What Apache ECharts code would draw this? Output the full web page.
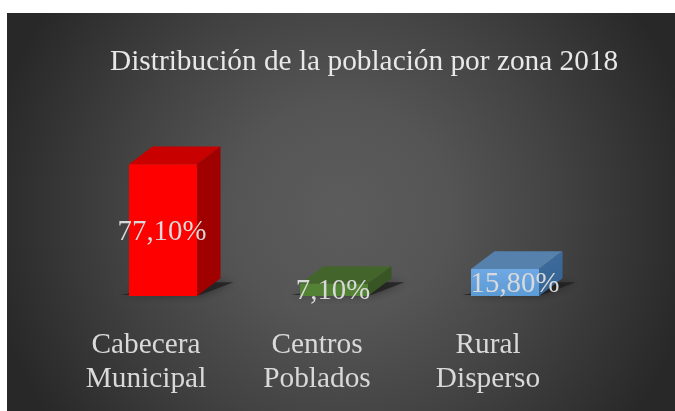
<!DOCTYPE html>
<html><head><meta charset="utf-8">
<style>html,body{margin:0;padding:0;background:#fff}#c{width:675px;height:411px}</style>
<script src="https://cdn.jsdelivr.net/npm/echarts@6/dist/echarts.min.js"></script>
</head><body><div id="c"></div>
<script>
const titleText = 'Distribución de la población por zona 2018';
const categories = ['Cabecera\nMunicipal', 'Centros\nPoblados', 'Rural\nDisperso'];
const values = [77.1, 7.1, 15.8];
const valueLabels = ['77,10%', '7,10%', '15,80%'];
const font = '"Liberation Serif","Times New Roman",serif';
const palette = [
  {front:'#ff0000', top:'#c80000', side:'#a00000'},
  {front:'#548235', top:'#43652b', side:'#375623'},
  {front:{type:'linear',x:0,y:0,x2:0,y2:1,colorStops:[{offset:0,color:'#6fa8e4'},{offset:1,color:'#5b9bd5'}]},
   top:'#5681ad',
   side:{type:'linear',x:0,y:0,x2:1,y2:1,colorStops:[{offset:0,color:'#3f6f9f'},{offset:1,color:'#33608f'}]}}
];
const labelShift = [-1, -1, 10];
const chart = echarts.init(document.getElementById('c'), null, {renderer:'canvas'});
const DX = 23.5, DY = 17.7, W = 68;
function renderItem(params, api) {
  const i = params.dataIndex;
  const top = api.coord([api.value(0), api.value(1)]);
  const base = api.coord([api.value(0), 0]);
  const cx = base[0];
  const l = cx - W/2, r = cx + W/2, t = top[1], b = base[1];
  const c = palette[i];
  const poly = (points, fill, extra) => ({type:'polygon', shape:{points}, style:Object.assign({fill}, extra||{})});
  return {type:'group', children:[
    poly([[l-9,b-1],[r+3,b-1],[r+DX+13,b-DY+4],[r+DX-25,b-DY+4]], 'rgba(30,30,30,0.8)', {shadowBlur:10, shadowColor:'rgba(30,30,30,0.85)'}),
    poly([[l,t],[r,t],[r+DX,t-DY],[l+DX,t-DY]], c.top),
    poly([[r,t],[r+DX,t-DY],[r+DX,b-DY],[r,b]], c.side),
    poly([[l,t],[r,t],[r,b],[l,b]], c.front),
    {type:'text', x:cx+labelShift[i], y:(t+b)/2+2, style:{text:valueLabels[i], fill:'#d9d9d9', font:'28.8px '+font, textAlign:'center', textVerticalAlign:'middle'}}
  ]};
}
chart.setOption({
  animation:false,
  backgroundColor:'#ffffff',
  graphic:[{type:'rect', z:-10, silent:true, shape:{x:7,y:13,width:668,height:398},
    style:{fill:{type:'radial',x:0.5,y:0.5,r:0.9,colorStops:[{offset:0,color:'#5c5c5c'},{offset:0.3,color:'#555555'},{offset:0.6,color:'#434343'},{offset:1,color:'#282828'}]}}}],
  title:{text:titleText, left:105, top:43, textStyle:{fontFamily:font, fontSize:29.33, fontWeight:'normal', color:'#e8e8e8'}},
  grid:{left:77.5, width:513, top:125, height:171},
  xAxis:{type:'category', data:categories, axisLine:{show:false}, axisTick:{show:false},
    axisLabel:{fontFamily:font, fontSize:29.33, lineHeight:34, color:'#d9d9d9', margin:32, interval:0, padding:[0,34,0,0]}},
  yAxis:{type:'value', min:0, max:100, show:false, splitLine:{show:false}},
  series:[{type:'custom', renderItem, clip:false, data:values.map((v,i)=>[i,v]), encode:{x:0,y:1}}]
});
</script></body></html>
